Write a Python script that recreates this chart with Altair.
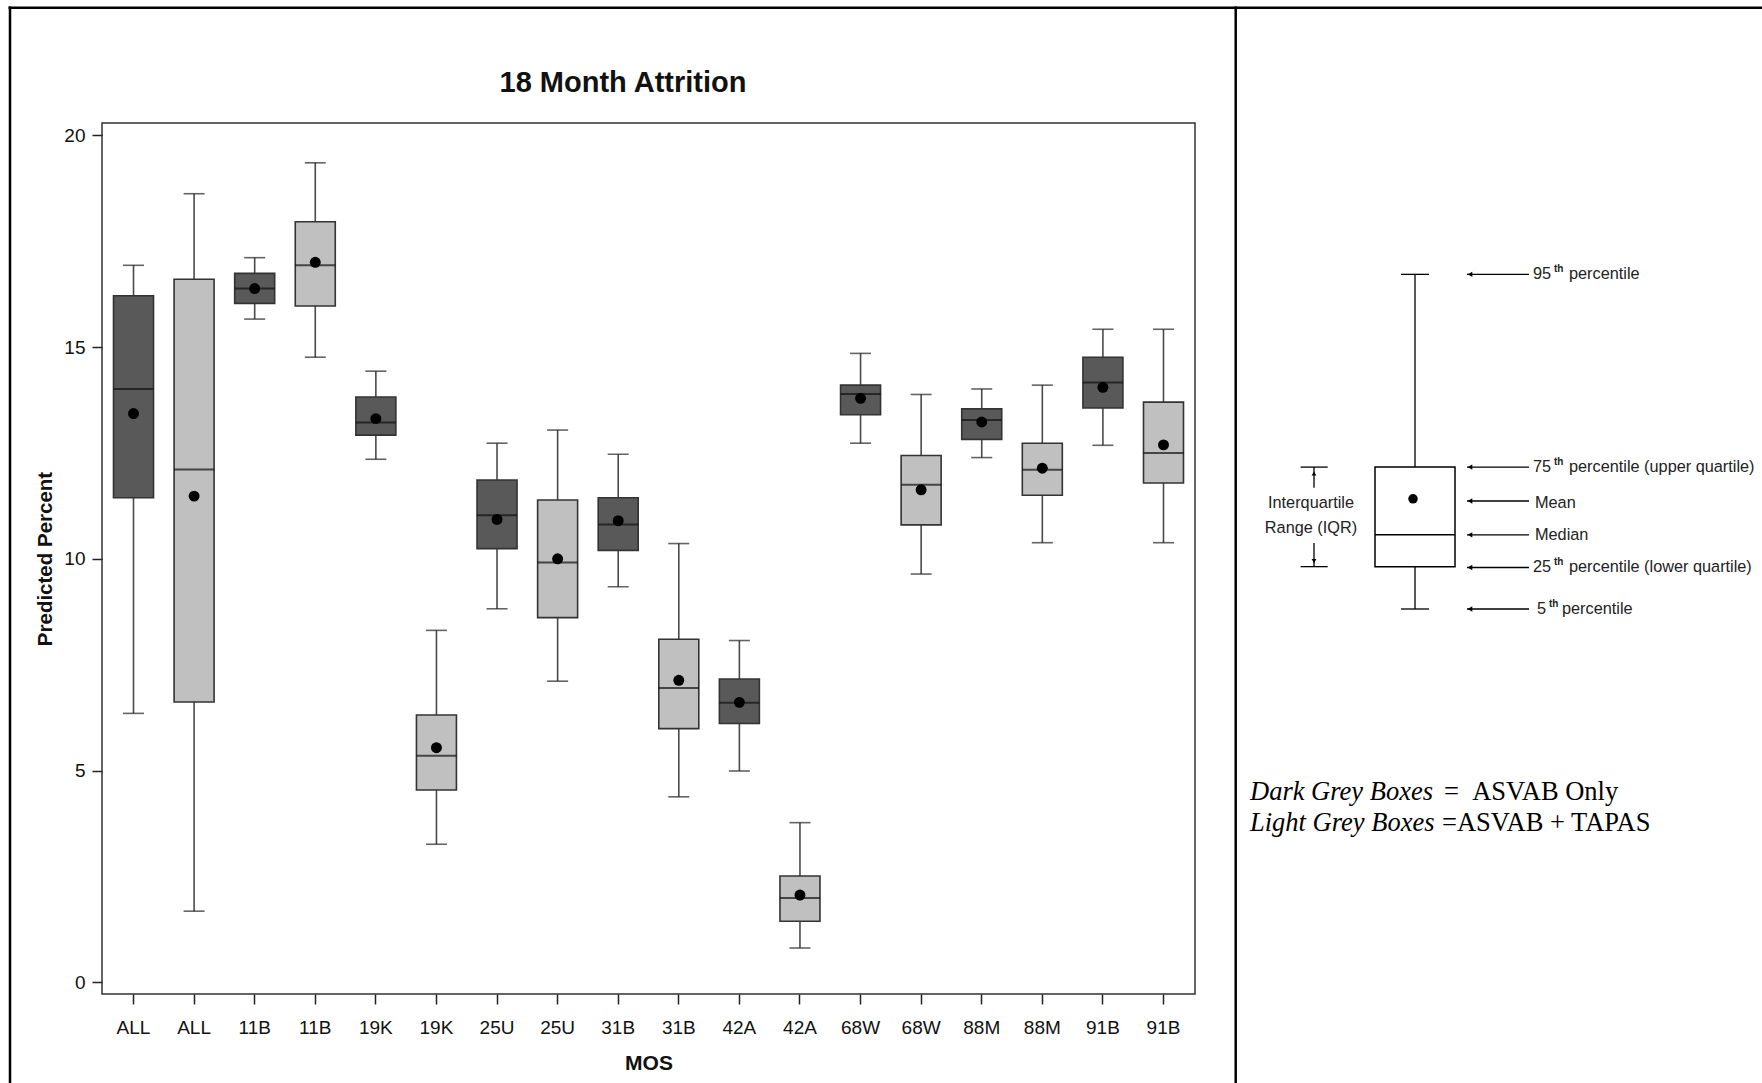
import altair as alt
import pandas as pd

# ---- box-plot statistics per MOS (predicted 18-month attrition, %) ----
mos = ["ALL", "ALL", "11B", "11B", "19K", "19K", "25U", "25U", "31B",
       "31B", "42A", "42A", "68W", "68W", "88M", "88M", "91B", "91B"]
series = ["ASVAB Only", "ASVAB + TAPAS"] * 9
p5 = [6.35, 1.68, 15.66, 14.76, 12.35, 3.26, 8.82, 7.11, 9.34,
      4.38, 4.99, 0.81, 12.73, 9.64, 12.39, 10.38, 12.68, 10.38]
q1 = [11.44, 6.62, 16.03, 15.97, 12.92, 4.54, 10.24, 8.61, 10.20,
      5.99, 6.11, 1.44, 13.40, 10.80, 12.82, 11.50, 13.56, 11.79]
median = [14.01, 12.11, 16.38, 16.93, 13.22, 5.35, 11.03, 9.91, 10.81,
          6.95, 6.60, 1.99, 13.89, 11.75, 13.28, 12.10, 14.16, 12.50]
mean = [13.43, 11.48, 16.38, 17.00, 13.31, 5.54, 10.93, 10.00, 10.90,
        7.13, 6.61, 2.06, 13.79, 11.63, 13.23, 12.14, 14.05, 12.69]
q3 = [16.21, 16.60, 16.74, 17.96, 13.82, 6.31, 11.86, 11.39, 11.44,
      8.10, 7.16, 2.51, 14.10, 12.44, 13.54, 12.73, 14.76, 13.70]
p95 = [16.93, 18.62, 17.11, 19.35, 14.43, 8.31, 12.73, 13.04, 12.47,
       10.36, 8.07, 3.77, 14.85, 13.88, 14.01, 14.10, 15.42, 15.42]
y_ticks = [0, 5, 10, 15, 20]

# ---- schematic box used in the key (diagram units) ----
key_stats = {"p5": 0.0, "q1": 1.0, "median": 1.75, "mean": 2.6, "q3": 3.35, "p95": 7.9}

SANS = "Liberation Sans Narrow, Arial Narrow, Liberation Sans, Arial, sans-serif"
SERIF = "Liberation Serif, Times New Roman, serif"

df = pd.DataFrame({
    "slot": [f"{i:02d}|{m}" for i, m in enumerate(mos)],
    "series": series, "p5": p5, "q1": q1, "median": median,
    "mean": mean, "q3": q3, "p95": p95,
})

x_enc = alt.X(
    "slot:N",
    scale=alt.Scale(type="band", paddingInner=0, paddingOuter=0.02),
    axis=alt.Axis(
        labelExpr="split(datum.label, '|')[1]", labelAngle=0,
        labelFont=SANS, labelFontSize=19, labelColor="#111", labelPadding=14,
        tickSize=10, tickColor="#222", tickWidth=1.5, domain=False,
        title="MOS", titleFont=SANS, titleFontSize=21, titleFontWeight="bold",
        titleColor="#111", titleY=69, titleBaseline="middle",
    ),
)
y_scale = alt.Scale(domain=[-0.276, 20.29], nice=False, zero=False)
y_axis = alt.Axis(
    values=y_ticks, labelFont=SANS, labelFontSize=19, labelColor="#111",
    labelPadding=7, tickSize=10, tickColor="#222", tickWidth=1.5,
    domain=False, grid=False,
    title="Predicted Percent", titleFont=SANS, titleFontSize=20.5,
    titleFontWeight="bold", titleColor="#111", titleX=-57,
    titleBaseline="middle",
)


def y_of(field):
    return alt.Y(f"{field}:Q", scale=y_scale, axis=y_axis)


base = alt.Chart(df)

whisker_low = base.mark_rule(color="#4a4a4a", strokeWidth=1.6).encode(
    x=x_enc, y=y_of("p5"), y2="q1:Q")
whisker_high = base.mark_rule(color="#4a4a4a", strokeWidth=1.6).encode(
    x=x_enc, y=y_of("q3"), y2="p95:Q")
cap_low = base.mark_tick(size=21, thickness=1.6, color="#222").encode(
    x=x_enc, y=y_of("p5"))
cap_high = base.mark_tick(size=21, thickness=1.6, color="#222").encode(
    x=x_enc, y=y_of("p95"))
boxes = base.mark_bar(size=40, stroke="#333", strokeWidth=1.6).encode(
    x=x_enc, y=y_of("q1"), y2="q3:Q",
    color=alt.Color("series:N",
                    scale=alt.Scale(domain=["ASVAB Only", "ASVAB + TAPAS"],
                                    range=["#595959", "#c0c0c0"]),
                    legend=None),
)
medians = base.mark_tick(size=40, thickness=2, color="#111").encode(
    x=x_enc, y=y_of("median"))
means = base.mark_circle(size=120, color="black", opacity=1).encode(
    x=x_enc, y=y_of("mean"))

one = pd.DataFrame({"k": [0]})
title = alt.Chart(one).mark_text(
    text="18 Month Attrition", font=SANS, fontSize=29, fontWeight="bold",
    align="center", baseline="middle", color="#111",
).encode(x=alt.value(521), y=alt.value(-40))

# page frame: top edge, left edge and column divider
frame_top = alt.Chart(one).mark_rule(color="black", strokeWidth=2.5).encode(
    x=alt.value(-93.5), x2=alt.value(1662), y=alt.value(-115.3))
frame_left = alt.Chart(one).mark_rule(color="black", strokeWidth=2.5).encode(
    x=alt.value(-92), y=alt.value(-116.5), y2=alt.value(962))
frame_mid = alt.Chart(one).mark_rule(color="black", strokeWidth=2.5).encode(
    x=alt.value(1133.7), y=alt.value(-116.5), y2=alt.value(962))

main = alt.layer(whisker_low, whisker_high, cap_low, cap_high, boxes,
                 medians, means, title, frame_top, frame_left, frame_mid)

# ---- key: annotated schematic box plot ----
kx = alt.Scale(domain=[0, 600], range=[1058, 1658])
ky = alt.Scale(domain=[0, 10], range=[486, 62.4])
KX = lambda f: alt.X(f"{f}:Q", scale=kx, axis=None)
KY = lambda f: alt.Y(f"{f}:Q", scale=ky, axis=None)

s = key_stats
row_y = [s["p95"], s["q3"], 2.55, s["median"], 0.98, s["p5"]]
seg = pd.DataFrame([
    # whiskers and caps
    (255, 255, s["p5"], s["q1"]), (255, 255, s["q3"], s["p95"]),
    (241, 269, s["p5"], s["p5"]), (241, 269, s["p95"], s["p95"]),
    # median
    (215, 295, s["median"], s["median"]),
    # IQR bracket
    (140.6, 167.7, s["q3"], s["q3"]), (140.6, 167.7, s["q1"], s["q1"]),
    (154, 154, s["q3"], 2.86), (154, 154, 1.56, s["q1"]),
] + [(307, 369, yy, yy) for yy in row_y], columns=["x", "x2", "y", "y2"])

key_segments = alt.Chart(seg).mark_rule(color="black", strokeWidth=1.3).encode(
    x=KX("x"), x2="x2:Q", y=KY("y"), y2="y2:Q")
key_box = alt.Chart(pd.DataFrame({"x": [215], "x2": [295], "y": [s["q1"]], "y2": [s["q3"]]})) \
    .mark_rect(fill="white", stroke="black", strokeWidth=1.5).encode(
        x=KX("x"), x2="x2:Q", y=KY("y"), y2="y2:Q")
key_median = alt.Chart(pd.DataFrame({"x": [215], "x2": [295], "y": [s["median"]]})) \
    .mark_rule(color="black", strokeWidth=1.5).encode(x=KX("x"), x2="x2:Q", y=KY("y"))
key_mean = alt.Chart(pd.DataFrame({"x": [253], "y": [s["mean"]]})).mark_circle(
    size=90, color="black", opacity=1).encode(x=KX("x"), y=KY("y"))
key_heads = alt.Chart(pd.DataFrame({"x": [310] * len(row_y), "y": row_y})).mark_point(
    shape="triangle-left", filled=True, size=28, color="black", opacity=1).encode(
        x=KX("x"), y=KY("y"))
key_up = alt.Chart(pd.DataFrame({"x": [154], "y": [3.2]})).mark_point(
    shape="triangle-up", filled=True, size=22, color="black", opacity=1).encode(
        x=KX("x"), y=KY("y"))
key_down = alt.Chart(pd.DataFrame({"x": [154], "y": [1.13]})).mark_point(
    shape="triangle-down", filled=True, size=22, color="black", opacity=1).encode(
        x=KX("x"), y=KY("y"))

labels = pd.DataFrame([
    (373, row_y[0], "95"), (409, row_y[0], "percentile"),
    (373, row_y[1], "75"), (409, row_y[1], "percentile (upper quartile)"),
    (375, 2.495, "Mean"),
    (375, row_y[3], "Median"),
    (373, row_y[4], "25"), (409, row_y[4], "percentile (lower quartile)"),
    (377, row_y[5], "5"), (402, row_y[5], "percentile"),
], columns=["x", "y", "t"])
key_labels = alt.Chart(labels).mark_text(
    font=SANS, fontSize=16.3, align="left", baseline="middle", color="#222").encode(
        x=KX("x"), y=KY("y"), text="t:N")
sups = pd.DataFrame({"x": [394, 394, 394, 389],
                     "y": [row_y[0], row_y[1], row_y[4], row_y[5]],
                     "t": ["th"] * 4})
key_sups = alt.Chart(sups).mark_text(
    font=SANS, fontSize=10, fontWeight="bold", align="left", baseline="middle",
    dy=-5, color="#222").encode(x=KX("x"), y=KY("y"), text="t:N")
iqr = pd.DataFrame({"x": [151, 151], "y": [2.495, 1.905],
                    "t": ["Interquartile", "Range (IQR)"]})
key_iqr = alt.Chart(iqr).mark_text(
    font=SANS, fontSize=16.3, align="center", baseline="middle", color="#222").encode(
        x=KX("x"), y=KY("y"), text="t:N")

note_italic = pd.DataFrame({"x": [90, 90], "y": [-4.32, -5.05],
                            "t": ["Dark Grey Boxes", "Light Grey Boxes"]})
note_plain = pd.DataFrame({"x": [284, 282], "y": [-4.32, -5.05],
                           "t": ["=\u00a0\u00a0ASVAB Only", "=ASVAB + TAPAS"]})
key_note_i = alt.Chart(note_italic).mark_text(
    font=SERIF, fontSize=26.5, fontStyle="italic", align="left",
    baseline="middle", color="black").encode(x=KX("x"), y=KY("y"), text="t:N")
key_note_p = alt.Chart(note_plain).mark_text(
    font=SERIF, fontSize=26.5, align="left", baseline="middle",
    color="black").encode(x=KX("x"), y=KY("y"), text="t:N")

key = alt.layer(key_segments, key_box, key_median, key_mean, key_heads,
                key_up, key_down, key_labels, key_sups, key_iqr,
                key_note_i, key_note_p)

chart = alt.layer(main, key).resolve_scale(
    x="independent", y="independent"
).properties(
    width=1093, height=871,
    autosize=alt.AutoSizeParams(type="none"),
    padding={"left": 102, "top": 123, "right": 567, "bottom": 89},
).configure(
    background="white"
).configure_view(
    stroke="#333", strokeWidth=1.5
)

chart.save("out.html", embed_options={"renderer": "svg", "actions": False})
